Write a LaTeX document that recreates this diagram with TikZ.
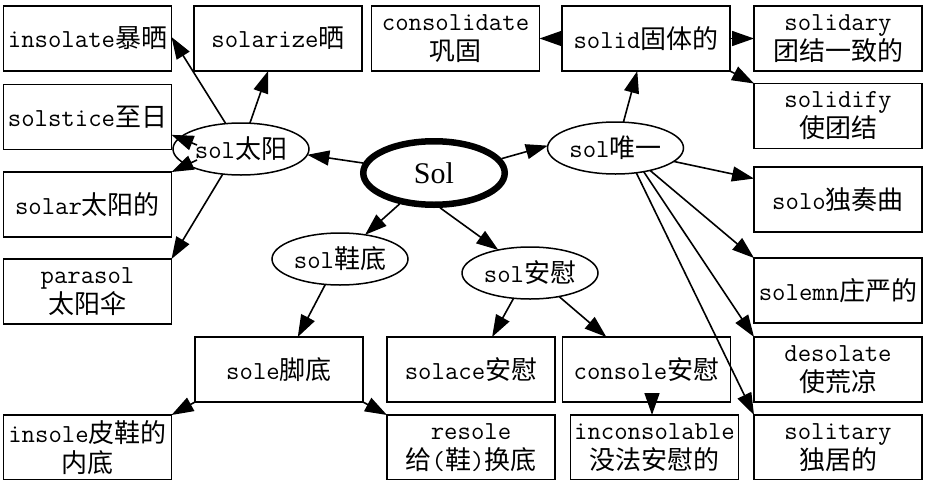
\documentclass[tikz,border=0pt]{standalone}
\usepackage{fontspec}
\newfontfamily\cj{Noto Sans CJK SC}
\newfontfamily\serifroot{Liberation Serif}
\usetikzlibrary{arrows.meta,shapes.geometric,calc}
\newcommand\zh[1]{{\cj\fontsize{26}{30}\selectfont #1}}
\begin{document}
\begin{tikzpicture}[x=1pt,y=-1pt,
  box/.style={draw, rectangle, line width=1.8pt, minimum width=168pt, minimum height=65pt,
    inner sep=0pt, outer sep=0pt, align=center, font=\ttfamily\fontsize{26}{30}\selectfont},
  oval/.style={draw, ellipse, line width=1.5pt, minimum width=136pt, minimum height=52pt,
    inner sep=0pt, outer sep=0pt, font=\ttfamily\fontsize{26}{30}\selectfont},
  rootoval/.style={draw, ellipse, line width=6.5pt, minimum width=141.5pt, minimum height=63.5pt,
    inner sep=0pt, outer sep=3.25pt, font=\serifroot\fontsize{30}{34}\selectfont},
  arr/.style={-{Triangle[length=22pt,width=15pt]}, line width=1.6pt}]
\useasboundingbox (0,0) rectangle (928,479);
\fill[white] (0,0) rectangle (928,479);
% top row
\node[box] (insolate) at (87.5,38.5) {insolate\zh{暴晒}};
\node[box] (solarize) at (278,38.5) {solarize\zh{晒}};
\node[box] (consolidate) at (455.5,38.5) {consolidate\\\zh{巩固}};
\node[box] (solid) at (646,38.5) {solid\zh{固体的}};
\node[box] (solidary) at (838,38.5) {solidary\\\zh{团结一致的}};
% left column
\node[box] (solstice) at (87.5,117) {solstice\zh{至日}};
\node[box] (solar) at (87.5,204.5) {solar\zh{太阳的}};
\node[box] (parasol) at (87.5,291.5) {parasol\\\zh{太阳伞}};
% right column
\node[box] (solidify) at (838,116) {solidify\\\zh{使团结}};
\node[box] (solo) at (838,199.5) {solo\zh{独奏曲}};
\node[box] (solemn) at (838,290.5) {solemn\zh{庄严的}};
\node[box] (desolate) at (838,369.5) {desolate\\\zh{使荒凉}};
\node[box] (solitary) at (838,447.5) {solitary\\\zh{独居的}};
% lower rows
\node[box] (sole) at (279,369.5) {sole\zh{脚底}};
\node[box] (solace) at (471,369.5) {solace\zh{安慰}};
\node[box] (console) at (646.5,369.5) {console\zh{安慰}};
\node[box] (insole) at (87.5,447.5) {insole\zh{皮鞋的}\\\zh{内底}};
\node[box] (resole) at (471,447.5) {resole\\\zh{给}(\zh{鞋})\zh{换底}};
\node[box] (inconsol) at (654.5,447.5) {inconsolable\\\zh{没法安慰的}};
% ellipses
\node[oval] (sun) at (241,149) {sol\zh{太阳}};
\node[rootoval] (root) at (434,173) {Sol};
\node[oval] (uni) at (615.5,148) {sol\zh{唯一}};
\node[oval] (shoe) at (340,259) {sol\zh{鞋底}};
\node[oval] (comfort) at (530,273) {sol\zh{安慰}};
% edges
\draw[arr] (root.172) -- (sun.-5);
\draw[arr] (root.12) -- (uni.178);
\draw[arr] (root.222) -- (shoe.44);
\draw[arr] (root.280) -- (comfort.144);
\draw[arr] (sun.121.6) -- (insolate.1);
\draw[arr] (sun.71) -- (solarize.253);
\draw[arr] ($(sun)+(-44,-4)$) -- (solstice.-12);
\draw[arr] ($(sun)+(-44,11)$) -- (solar.north east);
\draw[arr] (sun.234) -- (parasol.north east);
\draw[arr] (shoe.240) -- (sole.60);
\draw[arr] (comfort.237) -- (solace.57);
\draw[arr] (comfort.321) -- (console.141);
\draw[arr] (sole.south west) -- (insole.north east);
\draw[arr] (sole.south east) -- (resole.north west);
\draw[arr] ($(console.south)+(5.5,0)$) -- ($(inconsol.north)+(-2.5,0)$);
\draw[arr] (uni.73) -- (solid.255);
\draw[arr] (solid.west) -- (consolidate.east);
\draw[arr] (solid.east) -- (solidary.west);
\draw[arr] (solid.south east) -- (solidify.north west);
\draw[arr] (uni.-13) -- (solo.166);
\draw[arr] (uni.-33) -- (solemn.north west);
\draw[arr] (uni.-40) -- (desolate.north west);
\draw[arr] (uni.-50) -- (solitary.north west);
\end{tikzpicture}
\end{document}
